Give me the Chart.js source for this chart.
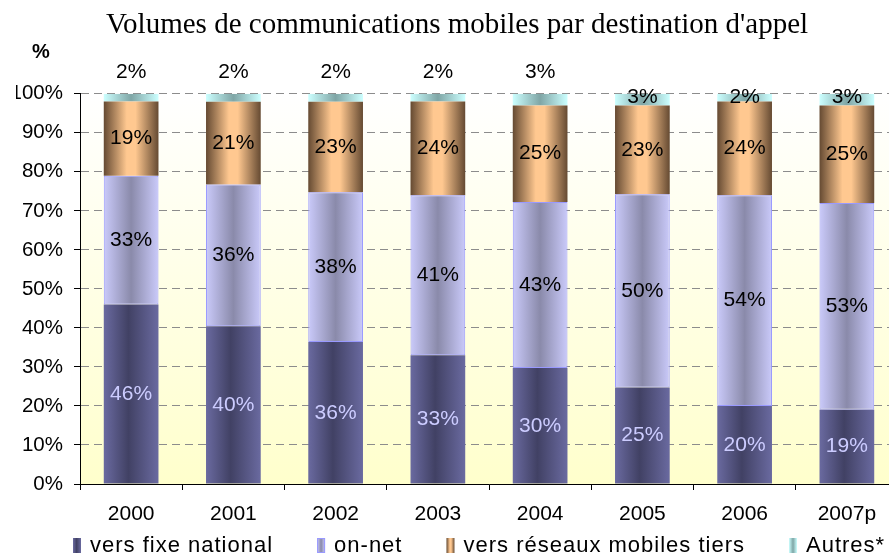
<!DOCTYPE html>
<html><head><meta charset="utf-8">
<script src="https://cdn.jsdelivr.net/npm/chart.js@4.4.1/dist/chart.umd.min.js"></script>
<style>
html,body{margin:0;padding:0;background:#fff;overflow:hidden;width:889px;height:560px}
#wrap{position:relative;width:914px;height:560px}
canvas{display:block}
</style></head><body>
<div id="wrap"><canvas id="c" width="914" height="560"></canvas></div>
<script>
// ---- data ----
const categories = ['2000','2001','2002','2003','2004','2005','2006','2007p'];
const fixeNational = [46, 40, 36, 33, 30, 25, 20, 19];
const onNet        = [33, 36, 38, 41, 43, 50, 54, 53];
const mobilesTiers = [19, 21, 23, 24, 25, 23, 24, 25];
const autres       = [2, 2, 2, 2, 3, 3, 2, 3];
const seriesNames  = ['vers fixe national', 'on-net', 'vers réseaux mobiles tiers', 'Autres*'];
const yTickValues  = [0, 10, 20, 30, 40, 50, 60, 70, 80, 90, 100];
const chartTitle   = "Volumes de communications mobiles par destination d'appel";
const axisUnit     = '%';

// 100% stacked: each column normalised to its total
const series = [fixeNational, onNet, mobilesTiers, autres];
const totals = categories.map((_, i) => series.reduce((s, a) => s + a[i], 0));
const share = arr => arr.map((v, i) => v / totals[i] * 100);

const BAR_PCT = 0.535;
const SANS = '"Liberation Sans", Arial, sans-serif';

const gradStops = [
  [[0, '#6A6AA0'], [0.45, '#414164'], [1, '#6A6AA0']],
  [[0, '#CACAFA'], [0.5, '#8A8AAA'], [1, '#CACAFA']],
  [[0, '#654A32'], [0.42, '#FFC890'], [0.58, '#FFC890'], [1, '#654A32']],
  [[0, '#CCFFFF'], [0.5, '#7FA6A6'], [1, '#CCFFFF']]
];
const labelColors = ['#CCCCFF', '#000', '#000', '#000'];

function barFill(k) {
  return (c) => {
    const chart = c.chart, xs = chart.scales.x;
    if (!xs || c.dataIndex === undefined || !chart.chartArea) return gradStops[k][1][1];
    const cx = xs.getPixelForValue(c.dataIndex);
    const w = xs.width / categories.length * BAR_PCT;
    const g = chart.ctx.createLinearGradient(cx - w / 2, 0, cx + w / 2, 0);
    gradStops[k].forEach(s => g.addColorStop(s[0], s[1]));
    return g;
  };
}

const plotBg = {
  id: 'plotBg',
  beforeDraw(chart) {
    const {ctx, chartArea: a} = chart;
    const g = ctx.createLinearGradient(0, a.top, 0, a.bottom);
    g.addColorStop(0, '#FFFFFF');
    g.addColorStop(1, '#FFFFCC');
    ctx.save(); ctx.fillStyle = g; ctx.fillRect(a.left, a.top, a.right - a.left, a.bottom - a.top); ctx.restore();
  }
};

const valueLabels = {
  id: 'valueLabels',
  afterDatasetsDraw(chart) {
    const ctx = chart.ctx;
    ctx.save();
    ctx.font = '21px ' + SANS;
    ctx.textAlign = 'center';
    ctx.textBaseline = 'middle';
    chart.data.datasets.forEach((ds, k) => {
      const meta = chart.getDatasetMeta(k);
      meta.data.forEach((el, i) => {
        const txt = ds.rawValues[i] + '%';
        let y = (el.y + el.base) / 2;
        if (k === 3) y = i < 5 ? el.y - 22 : el.y + 3;
        ctx.fillStyle = labelColors[k];
        ctx.fillText(txt, el.x, y);
      });
    });
    // unit label above the y axis
    ctx.font = 'bold 20px ' + SANS;
    ctx.fillStyle = '#000';
    ctx.fillText(axisUnit, 41, 52);
    ctx.restore();
  }
};

const customLegend = {
  id: 'customLegend',
  afterDraw(chart) {
    const ctx = chart.ctx;
    ctx.save();
    ctx.font = '22px ' + SANS;
    if ('letterSpacing' in ctx) ctx.letterSpacing = '1px';
    ctx.textBaseline = 'middle';
    ctx.textAlign = 'left';
    let x = 73;
    const yMid = 546;
    chart.data.datasets.forEach((ds, k) => {
      const g = ctx.createLinearGradient(x, 0, x + 8, 0);
      gradStops[k].forEach(s => g.addColorStop(s[0], s[1]));
      ctx.fillStyle = g;
      ctx.fillRect(x, 538, 8, 15);
      if (k === 1) { ctx.strokeStyle = '#9999FF'; ctx.lineWidth = 1; ctx.strokeRect(x + 0.5, 538.5, 7, 14); }
      ctx.fillStyle = '#000';
      ctx.fillText(ds.label, x + 17, yMid);
      x += 17 + ctx.measureText(ds.label).width + 44;
    });
    ctx.restore();
  }
};

const datasets = series.map((arr, k) => ({
  label: seriesNames[k],
  data: share(arr),
  rawValues: arr,
  backgroundColor: barFill(k),
  borderColor: k === 1 ? '#9999FF' : 'rgba(0,0,0,0)',
  borderWidth: k === 1 ? 1 : 0,
  borderSkipped: false,
  barPercentage: BAR_PCT,
  categoryPercentage: 1
}));

new Chart(document.getElementById('c'), {
  type: 'bar',
  data: { labels: categories, datasets },
  options: {
    responsive: false,
    animation: false,
    layout: { padding: { left: 16, right: 16, top: 0, bottom: 0 } },
    plugins: {
      legend: { display: false },
      tooltip: { enabled: false },
      title: {
        display: true,
        text: chartTitle,
        color: '#000',
        font: { family: '"Liberation Serif", "Times New Roman", serif', size: 29, weight: 'normal' },
        padding: { top: 8, bottom: 51 }
      }
    },
    scales: {
      x: {
        stacked: true,
        afterFit: s => { s.height = 76; },
        grid: { display: true, drawOnChartArea: false, drawTicks: true, tickLength: 6, offset: true, tickColor: '#000', color: '#000' },
        border: { display: true, color: '#000', width: 1 },
        ticks: { color: '#000', font: { family: SANS, size: 21 }, padding: 12, maxRotation: 0, autoSkip: false }
      },
      y: {
        stacked: true,
        min: 0, max: 100,
        afterFit: s => { s.width = 64; },
        afterBuildTicks: s => { s.ticks = yTickValues.map(v => ({ value: v })); },
        grid: { color: '#8C8C8C', lineWidth: 1, drawTicks: true, tickLength: 6, tickColor: '#000', tickBorderDash: [], tickWidth: 1 },
        border: { display: true, color: '#000', width: 1, dash: [8, 5] },
        ticks: { color: '#000', font: { family: SANS, size: 20.5 }, padding: 11, callback: v => v + '%' }
      }
    }
  },
  plugins: [plotBg, valueLabels, customLegend]
});
</script>
</body></html>
